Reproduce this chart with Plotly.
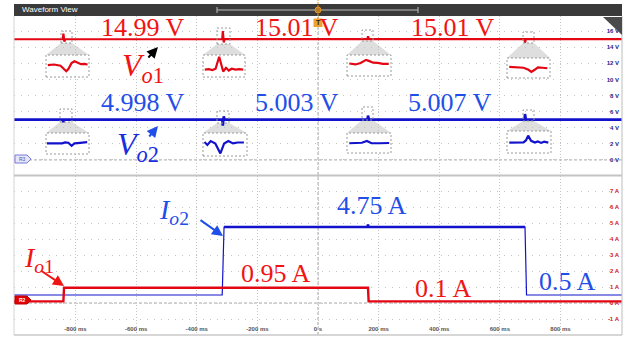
import plotly.graph_objects as go

W, H = 631, 339

# ---------------- data ----------------
# time base (ms)
t_range = [-1003, 1003]
x_ticks = [-800, -600, -400, -200, 0, 200, 400, 600, 800]
x_tick_text = ["-800 ms", "-600 ms", "-400 ms", "-200 ms", "0 s",
               "200 ms", "400 ms", "600 ms", "800 ms"]

v_ticks = [0, 2, 4, 6, 8, 10, 12, 14, 16]
i_ticks = [-1, 0, 1, 2, 3, 4, 5, 6, 7]

# output voltage Vo1 (V)
t_vo1 = [-1003, -842, -840, -837, -834, -316, -314, -311, -308,
         163, 165, 168, 681, 683, 686, 1003]
vo1 = [14.99, 14.99, 15.7, 14.7, 14.99, 14.99, 16.0, 14.6, 15.01,
       15.01, 15.36, 15.01, 15.01, 14.56, 15.01, 15.01]

# output voltage Vo2 (V)
t_vo2 = [-1003, -842, -840, -837, -316, -314, -311, -308,
         163, 165, 168, 681, 683, 686, 1003]
vo2 = [4.998, 4.998, 4.7, 4.998, 4.998, 4.25, 5.4, 5.003,
       5.003, 5.5, 5.007, 5.007, 5.7, 5.007, 5.007]

# load currents (A)
t_io1 = [-1003, -840, -838, 165, 167, 1003]
io1 = [0.1, 0.1, 0.95, 0.95, 0.1, 0.1]

t_io2 = [-1003, -316, -310, 163, 165, 167, 683, 688, 1003]
io2 = [0.5, 0.5, 4.75, 4.75, 4.9, 4.75, 4.75, 0.5, 0.5]

# measured averages
vo1_labels = ["14.99 V", "15.01 V", "15.01 V"]
vo2_labels = ["4.998 V", "5.003 V", "5.007 V"]
io_labels = ["0.95 A", "4.75 A", "0.1 A", "0.5 A"]

# zoomed transient details (normalised time, relative deviation)
zx_vo1_a = [0.02, 0.17, 0.33, 0.40, 0.47, 0.52, 0.60, 0.67, 0.75, 0.83, 0.91, 0.99]
zy_vo1_a = [0.09, 0.15, 0.03, -0.21, -0.52, -0.30, 0.30, 0.48, 0.30, 0.18, 0.21, 0.15]
zx_vo1_b = [0.02, 0.12, 0.21, 0.29, 0.33, 0.38, 0.43, 0.48, 0.55, 0.62, 0.69, 0.79, 0.88, 0.98]
zy_vo1_b = [-0.36, -0.32, -0.41, -0.27, 0.27, 0.91, 0.18, -0.55, -0.18, -0.45, -0.27, -0.36, -0.32, -0.36]
zx_vo1_c = [0.03, 0.18, 0.30, 0.37, 0.43, 0.51, 0.60, 0.71, 0.83, 0.97]
zy_vo1_c = [0.21, 0.11, 0.27, 0.46, 0.59, 0.46, 0.30, 0.27, 0.17, 0.17]
zx_vo1_d = [0.03, 0.22, 0.38, 0.50, 0.57, 0.65, 0.73, 0.84, 0.96]
zy_vo1_d = [0.13, 0.10, 0.03, -0.20, -0.43, -0.20, 0.07, 0.03, -0.03]

zx_vo2_a = [0.0, 0.37, 0.44, 0.52, 0.60, 0.67, 0.75, 0.98]
zy_vo2_a = [0.02, 0.02, 0.11, 0.08, -0.24, 0.02, 0.05, 0.14]
zx_vo2_b = [0.01, 0.08, 0.16, 0.27, 0.39, 0.48, 0.58, 0.69, 0.80, 0.95]
zy_vo2_b = [0.24, -0.04, 0.33, 0.10, -0.85, 0.10, 0.33, 0.10, 0.19, 0.19]
zx_vo2_c = [0.03, 0.23, 0.33, 0.45, 0.56, 0.75, 0.98]
zy_vo2_c = [-0.03, -0.03, 0.03, 0.23, -0.03, -0.03, 0.0]
zx_vo2_d = [0.03, 0.37, 0.43, 0.48, 0.55, 0.64, 0.71, 0.79, 0.86, 0.96]
zy_vo2_d = [-0.06, -0.03, 0.18, 0.64, 0.12, -0.06, 0.06, -0.09, 0.03, -0.06]

# ---------------- styling ----------------
RED = "#e30613"
RED_TXT = "#f01414"
BLUE = "#1212cc"
BLUE_TXT = "#1f4fe8"
GRID = "#c4c4c4"
SERIF = "Liberation Serif"
SANS = "Liberation Sans"


def fx(px):
    return px / W


def fy(py):
    return 1 - py / H


X0, X1 = 14, 622
fig = go.Figure()

# main traces
fig.add_trace(go.Scatter(x=t_vo1, y=vo1, mode="lines", line=dict(color=RED, width=2.2),
                         xaxis="x", yaxis="y"))
fig.add_trace(go.Scatter(x=t_vo2, y=vo2, mode="lines", line=dict(color=BLUE, width=2.6),
                         xaxis="x", yaxis="y"))
fig.add_trace(go.Scatter(x=t_io2, y=io2, mode="lines", line=dict(color=BLUE, width=1.2),
                         xaxis="x2", yaxis="y2"))
# loaded portion of Io2 carries more ripple, drawn heavier
hi = [k for k, v in enumerate(io2) if v > 1]
fig.add_trace(go.Scatter(x=[t_io2[k] for k in hi], y=[io2[k] for k in hi], mode="lines",
                         line=dict(color=BLUE, width=2.6), xaxis="x2", yaxis="y2"))
fig.add_trace(go.Scatter(x=t_io1, y=io1, mode="lines", line=dict(color=RED, width=2.4),
                         xaxis="x2", yaxis="y2"))

# zoom insets: (x data, y data, colour, small box px, big box px)
insets = [
    (zx_vo1_a, zy_vo1_a, RED, (61, 31, 72, 43), (46, 55, 89, 77)),
    (zx_vo1_b, zy_vo1_b, RED, (217, 28, 230, 44), (203, 55, 245, 77)),
    (zx_vo1_c, zy_vo1_c, RED, (362, 30, 373, 41), (347, 55, 391, 76)),
    (zx_vo1_d, zy_vo1_d, RED, (523, 32, 534, 43), (507, 58, 550, 78)),
    (zx_vo2_a, zy_vo2_a, BLUE, (60, 109, 72, 122), (46, 133, 89, 154)),
    (zx_vo2_b, zy_vo2_b, BLUE, (217, 111, 229, 123), (203, 133, 247, 156)),
    (zx_vo2_c, zy_vo2_c, BLUE, (362, 107, 373, 120), (347, 133, 391, 153)),
    (zx_vo2_d, zy_vo2_d, BLUE, (523, 110, 534, 121), (507, 131, 551, 153)),
]

shapes = []
layout_axes = {}
for n, (zx, zy, col, sb, bb) in enumerate(insets):
    ax_id = n + 3
    fig.add_trace(go.Scatter(x=zx, y=zy, mode="lines", line=dict(color=col, width=2.2),
                             xaxis=f"x{ax_id}", yaxis=f"y{ax_id}"))
    layout_axes[f"xaxis{ax_id}"] = dict(domain=[fx(bb[0] + 1), fx(bb[2] - 1)], range=[0, 1],
                                        visible=False, anchor=f"y{ax_id}")
    layout_axes[f"yaxis{ax_id}"] = dict(domain=[fy(bb[3] - 1), fy(bb[1] + 1)], range=[-1, 1],
                                        visible=False, anchor=f"x{ax_id}")
    # funnel between the two boxes
    shapes.append(dict(type="path", xref="paper", yref="paper",
                       path=f"M {fx(sb[0])},{fy(sb[3])} L {fx(sb[2])},{fy(sb[3])} "
                            f"L {fx(bb[2])},{fy(bb[1])} L {fx(bb[0])},{fy(bb[1])} Z",
                       fillcolor="rgba(200,200,200,0.6)", line=dict(width=0), layer="below"))
    for (a, b, c, d) in (sb, bb):
        shapes.append(dict(type="rect", xref="paper", yref="paper",
                           x0=fx(a), x1=fx(c), y0=fy(d), y1=fy(b),
                           line=dict(color="#9a9a9a", width=1, dash="2px,2px"),
                           fillcolor="rgba(0,0,0,0)"))

# reference lines (0 V, 0 A, trigger time)
shapes += [
    dict(type="line", xref="paper", yref="y", x0=fx(X0), x1=fx(X1), y0=0, y1=0,
         line=dict(color="#a8a8a8", width=1, dash="3px,2px"), layer="below"),
    dict(type="line", xref="paper", yref="y2", x0=fx(X0), x1=fx(X1), y0=0, y1=0,
         line=dict(color="#a8a8a8", width=1, dash="3px,2px"), layer="below"),
    dict(type="line", xref="x", yref="paper", x0=0, x1=0, y0=fy(175), y1=fy(16),
         line=dict(color="#a8a8a8", width=1, dash="3px,2px"), layer="below"),
    dict(type="line", xref="x2", yref="paper", x0=0, x1=0, y0=fy(335), y1=fy(176),
         line=dict(color="#a8a8a8", width=1, dash="3px,2px"), layer="below"),
]

# frame, separator and title bar
shapes += [
    dict(type="line", xref="paper", yref="paper", x0=fx(X0), x1=fx(X0), y0=fy(335), y1=fy(16),
         line=dict(color="#d4d4d4", width=1)),
    dict(type="line", xref="paper", yref="paper", x0=fx(X1), x1=fx(X1), y0=fy(335), y1=fy(16),
         line=dict(color="#c8c8c8", width=1.2)),
    dict(type="line", xref="paper", yref="paper", x0=fx(X0), x1=fx(X1), y0=fy(335), y1=fy(335),
         line=dict(color="#c8c8c8", width=1.5)),
    dict(type="line", xref="paper", yref="paper", x0=fx(X0), x1=fx(X1), y0=fy(175.5), y1=fy(175.5),
         line=dict(color="#c4c4c4", width=2)),
    dict(type="rect", xref="paper", yref="paper", x0=fx(X0), x1=fx(X1), y0=fy(16), y1=fy(4),
         fillcolor="#3a3a3a", line=dict(width=0)),
    dict(type="line", xref="paper", yref="paper", x0=fx(217), x1=fx(418), y0=fy(10), y1=fy(10),
         line=dict(color="#bdbdbd", width=1)),
    dict(type="line", xref="paper", yref="paper", x0=fx(217), x1=fx(217), y0=fy(13), y1=fy(7),
         line=dict(color="#bdbdbd", width=1)),
    dict(type="line", xref="paper", yref="paper", x0=fx(418), x1=fx(418), y0=fy(13), y1=fy(7),
         line=dict(color="#bdbdbd", width=1)),
    dict(type="line", xref="paper", yref="paper", x0=fx(318), x1=fx(318), y0=fy(19), y1=fy(0),
         line=dict(color="#e8961e", width=1, dash="2px,1px")),
    dict(type="circle", xref="paper", yref="paper", x0=fx(315), x1=fx(321), y0=fy(13), y1=fy(7),
         fillcolor="#b87a22", line=dict(color="#e8961e", width=1)),
    dict(type="rect", xref="paper", yref="paper", x0=fx(313.5), x1=fx(322.5), y0=fy(27), y1=fy(18.5),
         fillcolor="#f0a030", line=dict(width=0)),
    # corner tab
    dict(type="path", xref="paper", yref="paper",
         path=f"M {fx(603)},{fy(17)} L {fx(622)},{fy(17)} L {fx(622)},{fy(35)} Z",
         fillcolor="#4a4a4a", line=dict(width=0)),
    # channel tags
    dict(type="path", xref="paper", yref="paper",
         path=f"M {fx(15)},{fy(155)} L {fx(27)},{fy(155)} L {fx(31)},{fy(159)} "
              f"L {fx(27)},{fy(163)} L {fx(15)},{fy(163)} Z",
         fillcolor="#e6e6fa", line=dict(color="#7b7bd6", width=1)),
    dict(type="path", xref="paper", yref="paper",
         path=f"M {fx(15)},{fy(296)} L {fx(27)},{fy(296)} L {fx(31)},{fy(300)} "
              f"L {fx(27)},{fy(304)} L {fx(15)},{fy(304)} Z",
         fillcolor="#e00000", line=dict(color="#c00000", width=1)),
]

ann = []


def text(px, py, s, color, size, family=SERIF, xanchor="center", yanchor="middle"):
    ann.append(dict(x=fx(px), y=fy(py), xref="paper", yref="paper", text=s, showarrow=False,
                    font=dict(color=color, size=size, family=family),
                    xanchor=xanchor, yanchor=yanchor))


def arrow(hx, hy, tx, ty, color):
    ann.append(dict(x=fx(hx), y=fy(hy), xref="paper", yref="paper", text="", showarrow=True,
                    ax=tx - hx, ay=ty - hy, arrowhead=2, arrowsize=1.1, arrowwidth=2,
                    arrowcolor=color))


for s, cx in zip(vo1_labels, [143, 297, 453]):
    text(cx, 27, s, RED_TXT, 26)
for s, cx in zip(vo2_labels, [143, 297, 450]):
    text(cx, 102, s, BLUE_TXT, 26)
for s, (cx, cy), col in zip(io_labels, [(276, 273), (372, 205), (443, 288), (567, 281)],
                            [RED_TXT, BLUE_TXT, RED_TXT, BLUE_TXT]):
    text(cx, cy, s, col, 26)

text(120, 67, "<i>V</i><sub><i>o</i>1</sub>", RED_TXT, 32, xanchor="left")
text(115, 146, "<i>V</i><sub><i>o</i>2</sub>", "#1a2ee0", 32, xanchor="left")
text(22, 259, "<i>I</i><sub><i>o</i>1</sub>", RED_TXT, 28, xanchor="left")
text(157, 211, "<i>I</i><sub><i>o</i>2</sub>", BLUE_TXT, 28, xanchor="left")

arrow(158, 47, 147, 59, "#000000")
arrow(158, 126, 148, 138, BLUE_TXT)
arrow(64, 286, 40, 270, RED_TXT)
arrow(223, 236, 199, 219, BLUE_TXT)

text(20, 10, "Waveform View", "#ffffff", 8, family=SANS, xanchor="left")
text(318, 22.8, "<b>T</b>", "#222222", 7, family=SANS)
text(22, 159, "R3", "#5050b0", 5, family=SANS)
text(22, 300, "<b>R2</b>", "#ffffff", 5, family=SANS)

tickfont_v = dict(size=6, color="#1c1c8a", family=SANS)
tickfont_i = dict(size=6, color="#d01818", family=SANS)
tickfont_t = dict(size=6, color="#555555", family=SANS)

grid_common = dict(showgrid=True, gridcolor=GRID, gridwidth=1, zeroline=False,
                   showline=False, ticks="")

fig.update_layout(
    width=W, height=H,
    margin=dict(l=0, r=0, t=0, b=0),
    paper_bgcolor="white", plot_bgcolor="white",
    showlegend=False,
    xaxis=dict(domain=[fx(X0), fx(X1)], range=t_range, anchor="y",
               tickvals=x_ticks, showticklabels=False, griddash="1px,2px", **grid_common),
    yaxis=dict(domain=[fy(175), fy(16)], range=[-1.875, 17.875], anchor="x", side="right",
               tickvals=v_ticks, ticktext=[f"<b>{v} V</b>" for v in v_ticks],
               ticklabelposition="inside", tickfont=tickfont_v,
               griddash="1px,6px", **grid_common),
    xaxis2=dict(domain=[fx(X0), fx(X1)], range=t_range, anchor="y2",
                tickvals=x_ticks, ticktext=[f"<b>{s}</b>" for s in x_tick_text],
                ticklabelposition="inside", tickfont=tickfont_t, griddash="1px,2px",
                **grid_common),
    yaxis2=dict(domain=[fy(335), fy(176)], range=[-2.0, 7.9375], anchor="x2", side="right",
                tickvals=i_ticks, ticktext=[f"<b>{v} A</b>" for v in i_ticks],
                ticklabelposition="inside", tickfont=tickfont_i,
                griddash="1px,6px", **grid_common),
    shapes=shapes,
    annotations=ann,
    **layout_axes,
)

fig.write_html("out.html")
